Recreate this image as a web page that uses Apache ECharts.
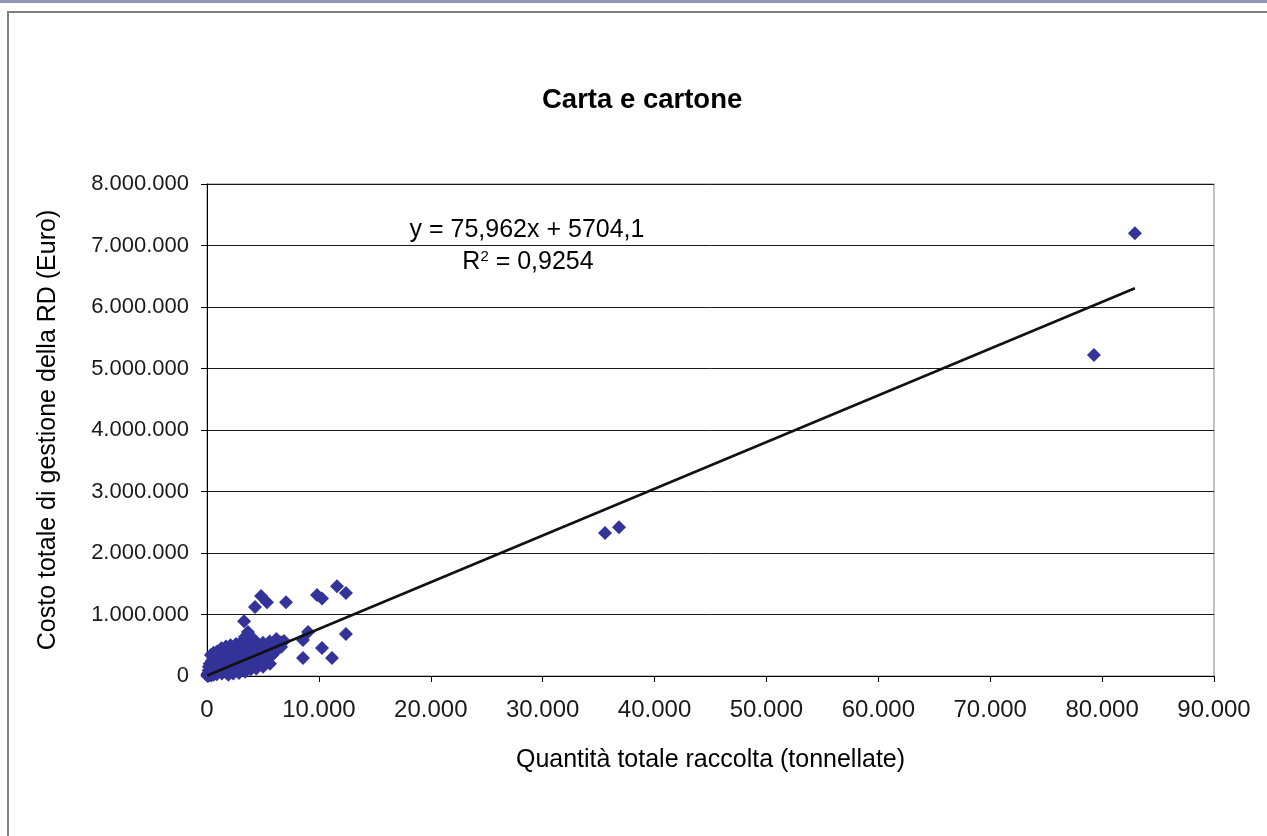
<!DOCTYPE html>
<html>
<head>
<meta charset="utf-8">
<script src="https://cdn.jsdelivr.net/npm/echarts@6/dist/echarts.min.js"></script>
<style>
html,body{margin:0;padding:0;background:#fff;}
#chart{width:1267px;height:836px;}
</style>
</head>
<body>
<div id="chart"></div>
<script>
// Quantità totale raccolta (tonnellate)
const quantita = [
  30, 45, 80, 95, 140, 160, 170, 240, 260, 230, 350, 330, 370, 440, 460, 470,
  590, 610, 620, 580, 740, 760, 730, 900, 880, 920, 870, 1100, 1080, 1120,
  1290, 1310, 1280, 1330, 1520, 1490, 1510, 1700, 1690, 1720, 1680, 1900, 1880, 1920, 1910,
  2100, 2080, 2120, 2090, 2350, 2330, 2370, 2340, 2600, 2580, 2620, 2610,
  2850, 2830, 2870, 2860, 3100, 3080, 3120, 3110, 3400, 3380, 3420, 3390, 3410,
  3660, 3640, 3680, 3650, 3900, 3880, 3920, 3910, 4150, 4130, 4170, 4160,
  4400, 4380, 4420, 4410, 4700, 4680, 4720, 5000, 4980, 5020, 5010,
  5300, 5280, 5320, 5600, 5580, 5630, 5900, 5880, 6200, 6180, 6600, 6620, 6880,
  3310, 4290, 4830, 5360, 7060, 9030, 8580, 8580, 10280, 11170, 12420,
  9830, 10280, 11620, 12420, 35570, 36820, 79270, 82930
];
// Costo totale di gestione della RD (Euro)
const costo = [
  5000, 20000, 40000, 2000, 90000, 15000, 150000, 200000, 60000, 30000, 340000, 110000, 10000, 250000, 170000, 50000,
  380000, 220000, 90000, 20000, 320000, 150000, 60000, 400000, 260000, 110000, 30000, 350000, 200000, 80000,
  450000, 300000, 150000, 40000, 380000, 230000, 100000, 480000, 330000, 180000, 60000, 420000, 270000, 120000, 20000,
  500000, 350000, 210000, 80000, 440000, 290000, 150000, 40000, 520000, 380000, 240000, 100000,
  460000, 320000, 170000, 50000, 560000, 400000, 260000, 120000, 640000, 480000, 330000, 190000, 70000,
  715000, 560000, 410000, 250000, 500000, 350000, 200000, 110000, 600000, 440000, 290000, 150000,
  520000, 380000, 230000, 120000, 460000, 320000, 200000, 540000, 400000, 260000, 150000,
  470000, 330000, 220000, 560000, 400000, 200000, 480000, 350000, 600000, 420000, 550000, 470000, 570000,
  890000, 1120000, 1300000, 1200000, 1200000, 716000, 585000, 293000, 455000, 293000, 683000,
  1317000, 1260000, 1460000, 1350000, 2325000, 2420000, 5220000, 7200000
];
const xTicks = [0, 10000, 20000, 30000, 40000, 50000, 60000, 70000, 80000, 90000];
const yTicks = [0, 1000000, 2000000, 3000000, 4000000, 5000000, 6000000, 7000000, 8000000];
const slope = 75.962, intercept = 5704.1;
const titleText = 'Carta e cartone';
const eqText = 'y = 75,962x + 5704,1';
const r2Text = '0,9254';

const points = quantita.map((q, i) => [q, costo[i]]);
const xmin = Math.min(...quantita), xmax = Math.max(...quantita);
const trend = [[xmin, slope * xmin + intercept], [xmax, slope * xmax + intercept]];

function fmt(v) { return String(v).replace(/\B(?=(\d{3})+(?!\d))/g, '.'); }

const FONT = '"Liberation Sans", Arial, sans-serif';
const chart = echarts.init(document.getElementById('chart'), null, {renderer: 'canvas'});
chart.setOption({
  backgroundColor: '#fff',
  animation: false,
  title: {
    text: titleText, left: 537, top: 81,
    textStyle: {fontFamily: FONT, fontSize: 27.5, fontWeight: 'bold', color: '#000'}
  },
  graphic: [
    {type: 'rect', shape: {x: 0, y: 0, width: 1267, height: 3}, style: {fill: '#9494b8'}, silent: true},
    {type: 'rect', shape: {x: 8, y: 12, width: 1400, height: 1000}, style: {fill: null, stroke: '#7f7f7f', lineWidth: 2}, silent: true},
    {type: 'text', x: 527, y: 230, style: {text: eqText, fontFamily: FONT, fontSize: 25, fill: '#000', align: 'center', verticalAlign: 'middle'}, silent: true},
    {type: 'text', x: 528, y: 262, style: {
      text: '{n|R}{s|2}{n| = ' + r2Text + '}',
      align: 'center', verticalAlign: 'middle',
      rich: {
        n: {fontFamily: FONT, fontSize: 25, fill: '#000'},
        s: {fontFamily: FONT, fontSize: 15, fill: '#000', verticalAlign: 'top', padding: [0, 0, 10, 0]}
      }
    }, silent: true}
  ],
  grid: {left: 207, right: 53, top: 184, bottom: 160, show: true, borderColor: '#808080', borderWidth: 1, backgroundColor: 'transparent'},
  xAxis: {
    type: 'value', min: xTicks[0], max: xTicks[xTicks.length - 1], interval: xTicks[1] - xTicks[0],
    name: 'Quantità totale raccolta (tonnellate)', nameLocation: 'middle', nameGap: 72,
    nameTextStyle: {fontFamily: FONT, fontSize: 25, color: '#000'},
    axisLine: {show: true, onZero: false, lineStyle: {color: '#000', width: 1}},
    axisTick: {show: true, inside: false, length: 6, lineStyle: {color: '#000'}},
    axisLabel: {fontFamily: FONT, fontSize: 24, color: '#1a1a1a', margin: 22, formatter: fmt},
    splitLine: {show: false}
  },
  yAxis: {
    type: 'value', min: yTicks[0], max: yTicks[yTicks.length - 1], interval: yTicks[1] - yTicks[0],
    name: 'Costo totale di gestione della RD (Euro)', nameLocation: 'middle', nameGap: 146,
    nameTextStyle: {fontFamily: FONT, fontSize: 25, color: '#000'},
    axisLine: {show: true, onZero: false, lineStyle: {color: '#000', width: 1}},
    axisTick: {show: true, inside: false, length: 6, lineStyle: {color: '#000'}},
    axisLabel: {fontFamily: FONT, fontSize: 22, color: '#1a1a1a', margin: 18, formatter: fmt},
    splitLine: {show: true, lineStyle: {color: '#1a1a1a', width: 1}}
  },
  series: [
    {
      type: 'scatter', data: points, symbol: 'diamond', symbolSize: 14,
      itemStyle: {color: '#333399', opacity: 1}, silent: true, z: 2
    },
    {
      type: 'line', data: trend, showSymbol: false, symbol: 'none',
      lineStyle: {color: '#111', width: 2.5}, silent: true, z: 3
    }
  ]
});
</script>
</body>
</html>
